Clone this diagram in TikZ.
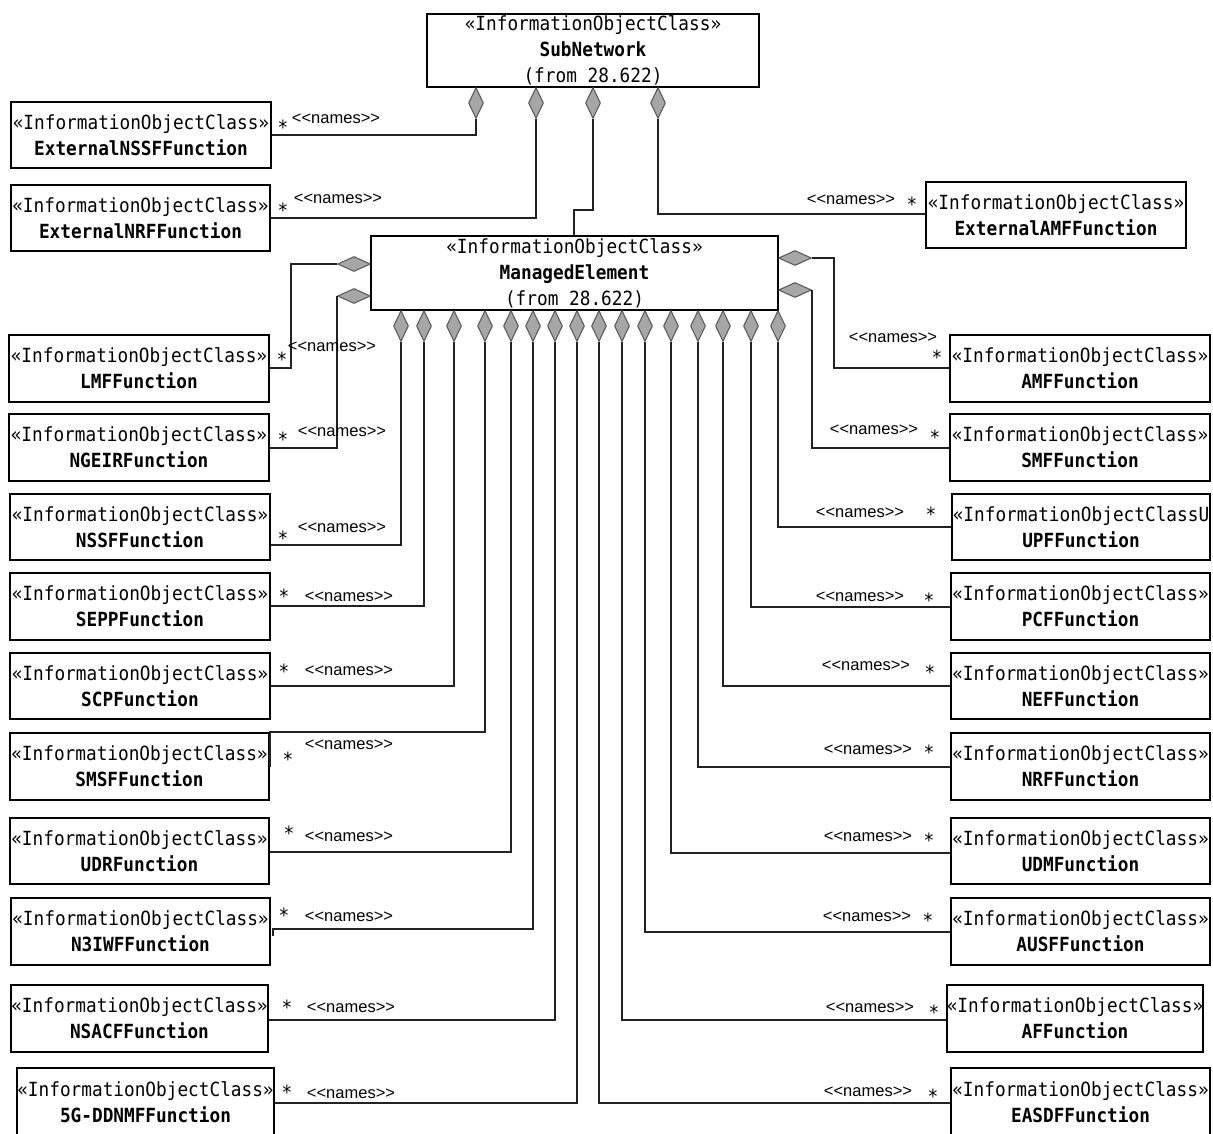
\documentclass[tikz,border=0pt]{standalone}
\usepackage{fontspec}
\usetikzlibrary{shapes.geometric}
\newfontfamily\monof[FakeStretch=0.91]{DejaVu Sans Mono}
\newfontfamily\labf{Liberation Sans}
\definecolor{dfill}{HTML}{A6A6A6}
\definecolor{dline}{HTML}{555555}
\definecolor{lcol}{HTML}{222222}
\tikzset{
 cls/.style={draw=black, line width=1.6pt, fill=white, inner sep=0pt, align=center,
   font=\monof\fontsize{19.5}{26}\selectfont},
 dv/.style={diamond, draw=dline, fill=dfill, line width=1pt, inner sep=0pt,
   minimum width=15pt, minimum height=31pt},
 dh/.style={diamond, draw=dline, fill=dfill, line width=1pt, inner sep=0pt,
   minimum width=33pt, minimum height=15pt},
 con/.style={draw=lcol, line width=1.5pt},
 nm/.style={font=\labf\fontsize{16.5}{18}\selectfont, inner sep=0pt},
 st/.style={font=\monof\fontsize{19.5}{22}\selectfont, inner sep=0pt, anchor=base, yshift=-9.5pt},
}
\newcommand\umlbox[6]{\node[cls, minimum width={(#4-#2)*1pt}, minimum height={(#5-#3)*1pt}] (#1) at ({(#2+#4)/2},{(#3+#5)/2}) {#6};}
\newcommand\ioc[1]{«InformationObjectClass»\\\textbf{#1}}
\newcommand\mylab[5]{\node[st] (#1-s) at (#2,#3) {*}; \node[nm] (#1-n) at (#4,#5) {<<names>>};}
\begin{document}
\begin{tikzpicture}[x=1pt,y=-1pt]
\useasboundingbox (0,0) rectangle (1213,1133);
\fill[white] (0,0) rectangle (1213,1133);
\clip (0,0) rectangle (1213,1133);

% boxes
\umlbox{sn}{427}{14}{759}{87}{«InformationObjectClass»\\\textbf{SubNetwork}\\(from 28.622)}
\umlbox{xnssf}{11}{102}{271}{168}{\ioc{ExternalNSSFFunction}}
\umlbox{xnrf}{11}{185}{270}{251}{\ioc{ExternalNRFFunction}}
\umlbox{xamf}{926}{182}{1186}{248}{\ioc{ExternalAMFFunction}}
\umlbox{me}{371}{236}{778}{310}{«InformationObjectClass»\\\textbf{ManagedElement}\\(from 28.622)}
\umlbox{lmf}{9}{335}{269}{402}{\ioc{LMFFunction}}
\umlbox{ngeir}{9}{414}{269}{481}{\ioc{NGEIRFunction}}
\umlbox{nssf}{10}{494}{270}{560}{\ioc{NSSFFunction}}
\umlbox{sepp}{10}{573}{270}{640}{\ioc{SEPPFunction}}
\umlbox{scp}{10}{653}{270}{719}{\ioc{SCPFunction}}
\umlbox{smsf}{10}{733}{269}{800}{\ioc{SMSFFunction}}
\umlbox{udr}{10}{818}{269}{884}{\ioc{UDRFunction}}
\umlbox{n3iwf}{11}{898}{270}{965}{\ioc{N3IWFFunction}}
\umlbox{nsacf}{11}{985}{268}{1052}{\ioc{NSACFFunction}}
\umlbox{ddnmf}{18}{1068}{273}{1136}{\ioc{5G-DDNMFFunction}}
\umlbox{amf}{950}{335}{1210}{402}{\ioc{AMFFunction}}
\umlbox{smf}{950}{414}{1210}{481}{\ioc{SMFFunction}}
\umlbox{upf}{952}{494}{1210}{560}{«InformationObjectClassU\\\textbf{UPFFunction}}
\umlbox{pcf}{951}{573}{1210}{640}{\ioc{PCFFunction}}
\umlbox{nef}{951}{653}{1210}{719}{\ioc{NEFFunction}}
\umlbox{nrf}{951}{733}{1210}{800}{\ioc{NRFFunction}}
\umlbox{udm}{951}{818}{1210}{884}{\ioc{UDMFunction}}
\umlbox{ausf}{951}{898}{1210}{965}{\ioc{AUSFFunction}}
\umlbox{af}{948}{985}{1202}{1052}{\ioc{AFFunction}}
\umlbox{easdf}{951}{1068}{1210}{1136}{\ioc{EASDFFunction}}

% diamonds on SubNetwork
\node[dv, anchor=north] (sd1) at (476,87) {};
\node[dv, anchor=north] (sd2) at (536,87) {};
\node[dv, anchor=north] (sd3) at (593,87) {};
\node[dv, anchor=north] (sd4) at (658,87) {};
% diamonds on ManagedElement sides
\node[dh, anchor=east] (ml1) at (371,264) {};
\node[dh, anchor=east] (ml2) at (371,296) {};
\node[dh, anchor=west] (mr1) at (778,258) {};
\node[dh, anchor=west] (mr2) at (778,290) {};
% diamonds on ManagedElement bottom
\foreach \x [count=\i] in {401,424,454,485,511,533,555,577,599,622,645,671,698,723,751,778}
  \node[dv, anchor=north] (b\i) at (\x,310) {};

% connectors from SubNetwork
\draw[con] (sd1.south) |- (xnssf.east |- 0,135);
\draw[con] (sd2.south) |- (xnrf.east |- 0,218);
\draw[con] (sd3.south) -- (sd3.south |- 0,210) -| (me.north -| 574,0);
\draw[con] (sd4.south) |- (xamf.west |- 0,214);

% connectors from ManagedElement sides
\draw[con] (ml1.west) -| (291,368) -- (lmf.east |- 0,368);
\draw[con] (ml2.west) |- (ngeir.east |- 0,448);
\draw[con] (mr1.east) -| (834,368) -- (amf.west |- 0,368);
\draw[con] (mr2.east) |- (smf.west |- 0,448);

% connectors from ManagedElement bottom, left
\draw[con] (b1.south) |- (nssf.east |- 0,545);
\draw[con] (b2.south) |- (sepp.east |- 0,606);
\draw[con] (b3.south) |- (scp.east |- 0,686);
\draw[con] (b4.south) |- (smsf.east |- 0,732) -- (smsf.east |- 0,767);
\draw[con] (b5.south) |- (udr.east |- 0,852);
\draw[con] (b6.south) |- (273,929) -- (273,936);
\draw[con] (b7.south) |- (nsacf.east |- 0,1020);
\draw[con] (b8.south) |- (ddnmf.east |- 0,1103);
% right
\draw[con] (b9.south) |- (easdf.west |- 0,1103);
\draw[con] (b10.south) |- (af.west |- 0,1020);
\draw[con] (b11.south) |- (ausf.west |- 0,932);
\draw[con] (b12.south) |- (udm.west |- 0,853);
\draw[con] (b13.south) |- (nrf.west |- 0,767);
\draw[con] (b14.south) |- (nef.west |- 0,686);
\draw[con] (b15.south) |- (pcf.west |- 0,607);
\draw[con] (b16.south) |- (upf.west |- 0,527);

% labels
\mylab{lxnssf}{283}{125}{336}{119}
\mylab{lxnrf}{283}{208}{338}{199}
\mylab{lxamf}{912}{202}{851}{200}
\mylab{llmf}{282}{357}{332}{347}
\mylab{lngeir}{283}{437}{342}{432}
\mylab{lnssf}{283}{536}{342}{528}
\mylab{lsepp}{284}{594}{349}{597}
\mylab{lscp}{284}{669}{349}{671}
\mylab{lsmsf}{288}{757}{349}{745}
\mylab{ludr}{289}{831}{349}{837}
\mylab{ln3iwf}{284}{913}{349}{917}
\mylab{lnsacf}{287}{1005}{351}{1008}
\mylab{lddnmf}{287}{1090}{351}{1094}
\mylab{lamf}{937}{355}{893}{338}
\mylab{lsmf}{935}{435}{874}{430}
\mylab{lupf}{931}{512}{860}{513}
\mylab{lpcf}{929}{598}{860}{597}
\mylab{lnef}{930}{670}{866}{666}
\mylab{lnrf}{929}{750}{868}{750}
\mylab{ludm}{929}{838}{868}{837}
\mylab{lausf}{928}{918}{867}{917}
\mylab{laf}{934}{1010}{870}{1008}
\mylab{leasdf}{933}{1094}{868}{1092}
\end{tikzpicture}
\end{document}
